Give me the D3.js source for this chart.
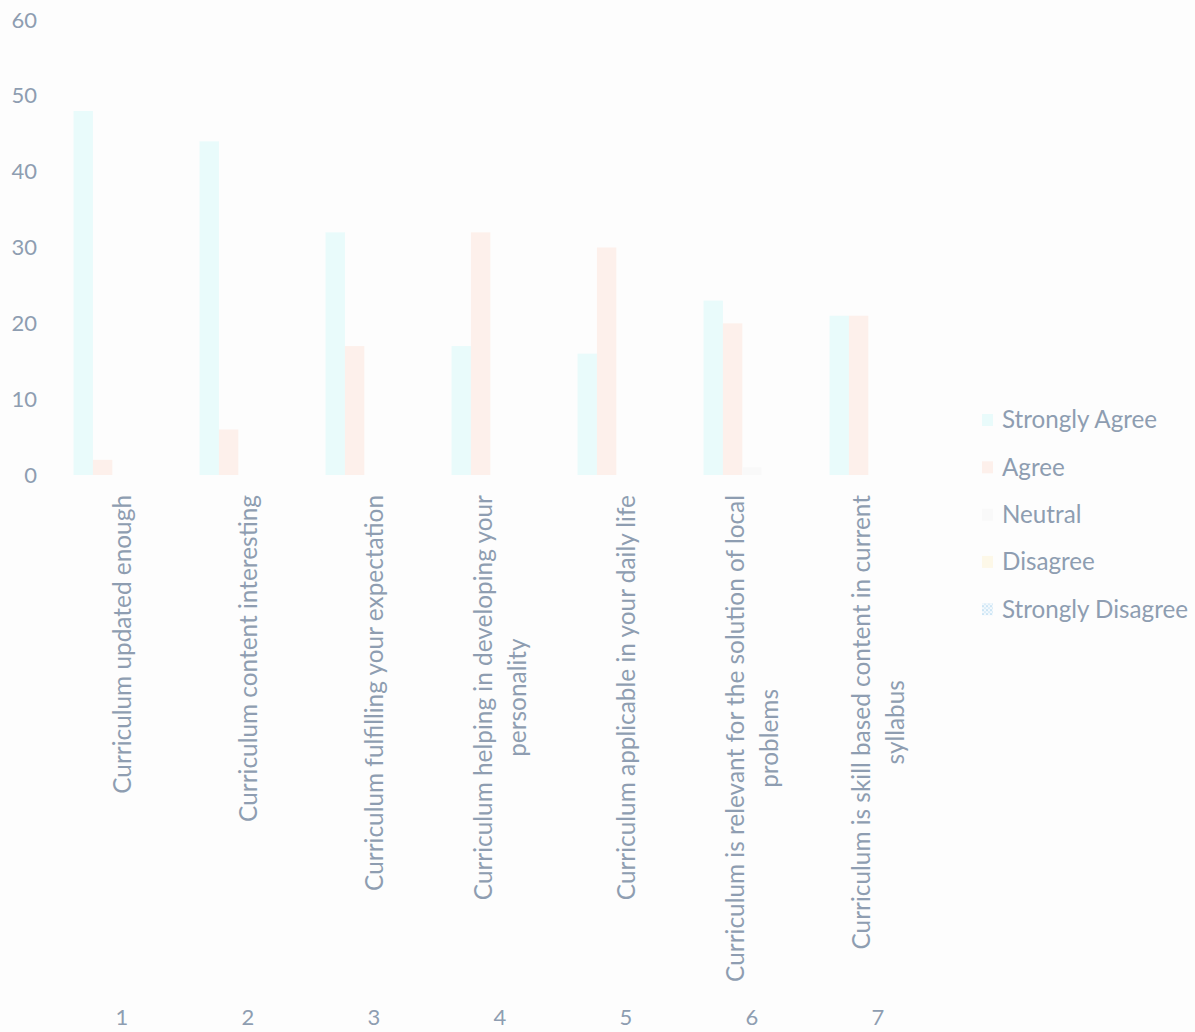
<!DOCTYPE html>
<html>
<head>
<meta charset="utf-8">
<script src="https://cdn.jsdelivr.net/npm/d3@7"></script>
<style>
    body { margin: 0; background: #fdfdfd; }
    svg { display: block; font-family: Lato, "Open Sans", sans-serif; }
</style>
</head>
<body>
<svg></svg>
<script>
const categories = ["1", "2", "3", "4", "5", "6", "7"];
const categoryLabels = [
    ["Curriculum updated enough"],
    ["Curriculum content interesting"],
    ["Curriculum fulfilling your expectation"],
    ["Curriculum helping in developing your", "personality"],
    ["Curriculum applicable in your daily life"],
    ["Curriculum is relevant for the solution of local", "problems"],
    ["Curriculum is skill based content in current", "syllabus"]
];
const seriesNames = ["Strongly Agree", "Agree", "Neutral", "Disagree", "Strongly Disagree"];
const stronglyAgree = [48, 44, 32, 17, 16, 23, 21];
const agree = [2, 6, 17, 32, 30, 20, 21];
const neutral = [0, 0, 0, 0, 0, 1, 0];
const disagree = [0, 0, 0, 0, 0, 0, 0];
const stronglyDisagree = [0, 0, 0, 0, 0, 0, 0];
const yTicks = [0, 10, 20, 30, 40, 50, 60];

(() => {
    const width = 1195;
    const height = 1032;
    const textColor = "#8e9db1";
    const colors = ["#e9fbfb", "#fdf0eb", "#f9f9f9", "#fdf8e8", "url(#sdPattern)"];
    const values = [stronglyAgree, agree, neutral, disagree, stronglyDisagree];

    const svg = d3.select("svg")
        .attr("width", width)
        .attr("height", height);

    const pattern = svg.append("defs").append("pattern")
        .attr("id", "sdPattern")
        .attr("width", 4)
        .attr("height", 4)
        .attr("patternUnits", "userSpaceOnUse");
    pattern.append("rect").attr("width", 4).attr("height", 4).attr("fill", "#f4f9fd");
    pattern.append("circle").attr("cx", 1).attr("cy", 1).attr("r", 0.9).attr("fill", "#b9dcf1");
    pattern.append("circle").attr("cx", 3).attr("cy", 3).attr("r", 0.9).attr("fill", "#cfe7f6");

    const xScale = d3.scaleBand()
        .domain(categories)
        .range([59, 941]);

    const xInner = d3.scaleBand()
        .domain(seriesNames)
        .range([0, xScale.bandwidth()])
        .paddingOuter(0.75);

    const yScale = d3.scaleLinear()
        .domain([0, 60])
        .range([475, 20]);

    // y axis, labels only
    const yAxis = svg.append("g")
        .attr("transform", "translate(37, 0)")
        .call(d3.axisLeft(yScale).tickValues(yTicks).tickSize(0).tickPadding(0));
    yAxis.select(".domain").remove();
    yAxis.selectAll("text")
        .attr("fill", textColor)
        .attr("font-size", 22)
        .attr("font-family", "Lato, sans-serif");

    // bars
    seriesNames.forEach((name, s) => {
        svg.append("g")
            .selectAll("rect")
            .data(values[s].map((v, i) => ({ cat: categories[i], v })))
            .enter()
            .append("rect")
            .attr("x", d => xScale(d.cat) + xInner(name))
            .attr("width", xInner.bandwidth())
            .attr("y", d => yScale(d.v))
            .attr("height", d => yScale(0) - yScale(d.v))
            .attr("fill", colors[s]);
    });

    // rotated category labels, block top at the axis, lines centred in block
    const labelFont = 24.4;
    const lineGap = 34;
    categories.forEach((c, i) => {
        const cx = xScale(c) + xScale.bandwidth() / 2;
        const lines = categoryLabels[i];
        const g = svg.append("g")
            .attr("transform", `translate(${cx}, 495) rotate(-90)`);
        const texts = lines.map((line, j) => g.append("text")
            .attr("y", (j - (lines.length - 1) / 2) * lineGap)
            .attr("dy", "0.35em")
            .attr("font-size", labelFont)
            .attr("fill", textColor)
            .attr("text-anchor", "middle")
            .text(line));
        const block = d3.max(texts, t => t.node().getComputedTextLength());
        texts.forEach(t => t.attr("x", -block / 2));
    });

    // category numbers
    svg.append("g")
        .selectAll("text")
        .data(categories)
        .enter()
        .append("text")
        .attr("x", d => xScale(d) + xScale.bandwidth() / 2)
        .attr("y", 1017)
        .attr("dy", "0.35em")
        .attr("text-anchor", "middle")
        .attr("font-size", 22)
        .attr("fill", textColor)
        .text(d => d);

    // legend
    const legend = svg.append("g")
        .selectAll("g")
        .data(seriesNames)
        .enter()
        .append("g")
        .attr("transform", (d, i) => `translate(982, ${420 + i * 47.3})`);

    legend.append("rect")
        .attr("x", 0)
        .attr("y", -6)
        .attr("width", 11)
        .attr("height", 12)
        .attr("fill", (d, i) => colors[i]);

    legend.append("text")
        .attr("x", 20)
        .attr("dy", "0.35em")
        .attr("font-size", 24.2)
        .attr("fill", textColor)
        .text(d => d);
})();
</script>
</body>
</html>
